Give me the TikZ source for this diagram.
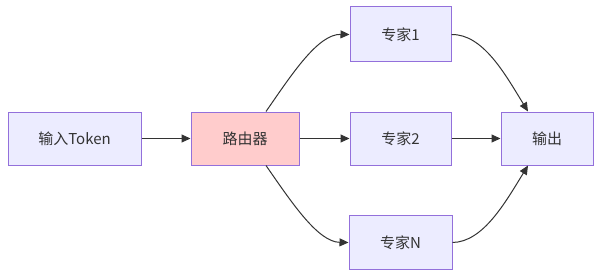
\documentclass[tikz,border=0pt]{standalone}
\usepackage{fontspec}
\setmainfont{Noto Sans CJK SC}
\usetikzlibrary{arrows.meta}
\definecolor{boxfill}{HTML}{ECECFF}
\definecolor{boxline}{HTML}{9370DB}
\definecolor{routerfill}{HTML}{FFCCCC}
\definecolor{edge}{HTML}{333333}
\begin{document}
\begin{tikzpicture}[x=1pt,y=-1pt,
  box/.style={draw=boxline, fill=boxfill, line width=1pt, inner sep=0pt, text=edge,
    font=\fontsize{15}{18}\selectfont},
  conn/.style={draw=edge, line width=1pt, -{Triangle[length=9pt,width=8pt]}}]
\useasboundingbox (0,0) rectangle (602,278);
\node[box, minimum width=133pt, minimum height=53pt] (in) at (74.5,138.5) {输入Token};
\node[box, fill=routerfill, minimum width=108pt, minimum height=53pt] (r) at (245,138.5) {路由器};
\node[box, minimum width=101pt, minimum height=55pt] (e1) at (400.5,34.5) {专家1};
\node[box, minimum width=101pt, minimum height=53pt] (e2) at (400.5,138.5) {专家2};
\node[box, minimum width=103pt, minimum height=54pt] (eN) at (400.5,242.5) {专家N};
\node[box, minimum width=92pt, minimum height=53pt] (out) at (547,138.5) {输出};
\draw[conn] (in) -- (r);
\draw[conn] (r) -- (e2);
\draw[conn] (e2) -- (out);
\draw[conn] (r.north west -| 266,0) .. controls (292,74) and (318,34) .. (e1.west);
\draw[conn] (r.south west -| 266,0) .. controls (292,203) and (318,242) .. (eN.west);
\draw[conn] (e1.east) .. controls (483,34) and (505,74) .. (out.north west -| 528,0);
\draw[conn] (eN.east) .. controls (483,242) and (505,203) .. (out.south west -| 528,0);
\end{tikzpicture}
\end{document}
